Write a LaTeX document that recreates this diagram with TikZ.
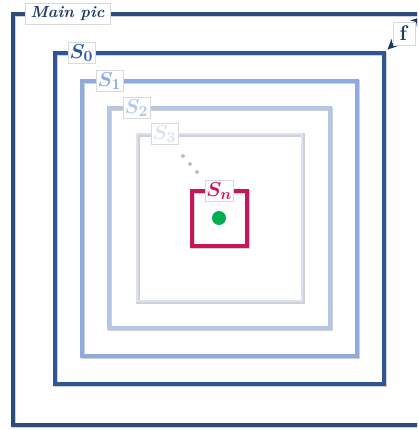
\documentclass[tikz,border=0pt]{standalone}
\usepackage{amsmath}
\usepackage{bm}
\usepackage{tikz}
\usetikzlibrary{arrows.meta, positioning, fit}
\definecolor{mainclr}{HTML}{2F4B7C}
\definecolor{maintxt}{HTML}{203864}
\definecolor{szero}{HTML}{2F5597}
\definecolor{sone}{HTML}{8FAADC}
\definecolor{stwo}{HTML}{B4C7E7}
\definecolor{sthree}{HTML}{DAE3F3}
\definecolor{sn}{HTML}{C9155B}
\definecolor{dotclr}{HTML}{00B050}
\definecolor{gapdot}{HTML}{B8C2D6}
\tikzset{
  frm/.style   = {draw, inner sep=0pt, outer sep=0pt, line width=2.5pt,
                  preaction={draw=black!18, line width=2.5pt,
                             transform canvas={shift={(0.25mm,-0.25mm)}}}},
  tag/.style   = {draw=black!15, fill=white, line width=0.4pt, inner sep=1pt,
                  outer sep=0pt, minimum height=5.25mm, anchor=west},
  stag/.style  = {tag, minimum width=6.75mm, font=\fontsize{15}{17}\selectfont},
  dim/.style   = {{Stealth[length=2.6mm, width=2.4mm]}-{Stealth[length=2.6mm, width=2.4mm]},
                  line width=1.5pt, color=maintxt, shorten <=1.2mm, shorten >=1mm},
}

\begin{document}
\begin{tikzpicture}[x=0.25mm, y=-0.25mm]
    \clip (0,0) rectangle (417,430);

    % nested frames
    \node[frm, draw=mainclr, fit={(13,14) (424,425)}] (main) {};
    \node[frm, draw=szero,   fit={(55,53) (384,384)}] (s0) {};
    \node[frm, draw=sone,    fit={(82,81) (357,356)}] (s1) {};
    \node[frm, draw=stwo,    fit={(109,108) (330,328)}] (s2) {};
    \node[frm, draw=sthree, line width=2pt, fit={(137,134) (302,301)}] (s3) {};
    \node[frm, draw=sn,      fit={(192,191) (247,246)}] (sn) {};

    % frame tags
    \node[tag, minimum width=21.25mm, text=maintxt,
          font=\fontsize{11.5}{13}\selectfont\bfseries\itshape]
          (mainlbl) at ([xshift=3mm]main.north west) {Main pic};
    \node[stag, text=szero]  (s0lbl) at ([xshift=3.25mm]s0.north west) {$\bm{S_0}$};
    \node[stag, text=sone]   (s1lbl) at ([xshift=3.5mm]s1.north west)  {$\bm{S_1}$};
    \node[stag, text=stwo]   (s2lbl) at ([xshift=3.5mm]s2.north west)  {$\bm{S_2}$};
    \node[stag, text=sthree] (s3lbl) at ([xshift=3.5mm]s3.north west)  {$\bm{S_3}$};
    \node[stag, text=sn]     (snlbl) at ([xshift=3.25mm]sn.north west) {$\bm{S_n}$};

    % dots between S3 and Sn
    \foreach \px/\py in {183/156, 190/164, 197/172}
      \fill[gapdot] (\px,\py) circle (2);

    % centre point
    \fill[dotclr] (219,218) circle (7);

    % gap f
    \draw[dim] (s0.north east) -- (main.north east)
      node[midway, tag, anchor=center, minimum width=5.5mm, minimum height=5.75mm,
           text=maintxt, font=\fontsize{15}{17}\selectfont] (flbl) {\textbf{f}};
\end{tikzpicture}
\end{document}
